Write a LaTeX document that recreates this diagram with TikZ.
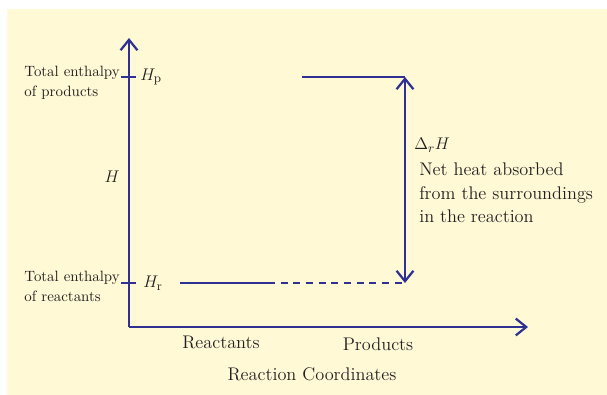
\documentclass[tikz,border=0pt]{standalone}
\usepackage{xcolor}
\usepackage{amsmath,amssymb}
\usepackage{tikz}
\usetikzlibrary{arrows.meta, positioning}
\definecolor{creambg}{HTML}{FFF9D6}
\definecolor{axisblue}{HTML}{2E3192}
\definecolor{inkdark}{HTML}{231F20}

\begin{document}
\begin{tikzpicture}[x=0.025cm, y=-0.025cm,
    axis/.style={-{Straight Barb[length=2.6mm, width=4.2mm, line width=1.6pt]}, line width=1.6pt, draw=axisblue},
    level/.style={line width=1.6pt, draw=axisblue},
    dashlevel/.style={line width=1.6pt, draw=axisblue, dash pattern=on 5pt off 4pt},
    heat/.style={{Straight Barb[length=2.6mm, width=4.2mm, line width=1.6pt]}-{Straight Barb[length=2.6mm, width=4.2mm, line width=1.6pt]}, line width=1.6pt, draw=axisblue},
    tickmark/.style={line width=1.6pt, draw=axisblue},
    lbl/.style={font=\fontsize{13}{16.5}\selectfont, text=inkdark, inner sep=0pt, align=left},
    sidelbl/.style={font=\fontsize{10.6}{14.2}\selectfont, text=inkdark, inner sep=0pt, align=left}
]
    % --- Frame ---
    \useasboundingbox (0,0) rectangle (607,395);
    \fill[creambg] (7,9) rectangle (607,395);

    % --- Axes ---
    \coordinate (origin) at (129,327);
    \coordinate (ytip) at (129,38);
    \coordinate (xtip) at (528,327);
    \draw[axis] (origin) -- (ytip);
    \draw[axis] (origin) -- (xtip);

    % --- Ticks on H axis ---
    \coordinate (hpl) at (121,77);
    \coordinate (hpr) at (136,77);
    \coordinate (hrl) at (121,283);
    \coordinate (hrr) at (136,283);
    \draw[tickmark] (hpl) -- (hpr);
    \draw[tickmark] (hrl) -- (hrr);

    % --- Enthalpy levels ---
    \coordinate (prodA) at (302,77);
    \coordinate (prodB) at (405,77);
    \coordinate (reacA) at (180,283);
    \coordinate (reacB) at (268,283);
    \coordinate (reacC) at (405,283);
    \draw[level] (prodA) -- (prodB);
    \draw[level] (reacA) -- (reacB);
    \draw[dashlevel] (reacB) -- (reacC);
    \draw[heat] (reacC) -- (prodB);

    % --- Labels ---
    \node[sidelbl, anchor=east] (hpname) at (120,83) {Total enthalpy\\of products};
    \node[sidelbl, anchor=east] (hrname) at (120,286) {Total enthalpy\\of reactants};
    \node[lbl, anchor=west] (hp) at (140,77) {$H_{\mathrm{p}}$};
    \node[lbl, anchor=west] (hr) at (143,283) {$H_{\mathrm{r}}$};
    \node[lbl] (hax) at (112,177) {$H$};
    \node[lbl, anchor=west] (dh) at (414,145) {$\Delta_r H$};
    \node[lbl, anchor=north west] (net) at (419,163) {Net heat absorbed\\from the surroundings\\in the reaction};
    \node[lbl] (reac) at (221,342) {Reactants};
    \node[lbl] (prod) at (378,344) {Products};
    \node[lbl] (coord) at (312,374) {Reaction Coordinates};
\end{tikzpicture}
\end{document}
